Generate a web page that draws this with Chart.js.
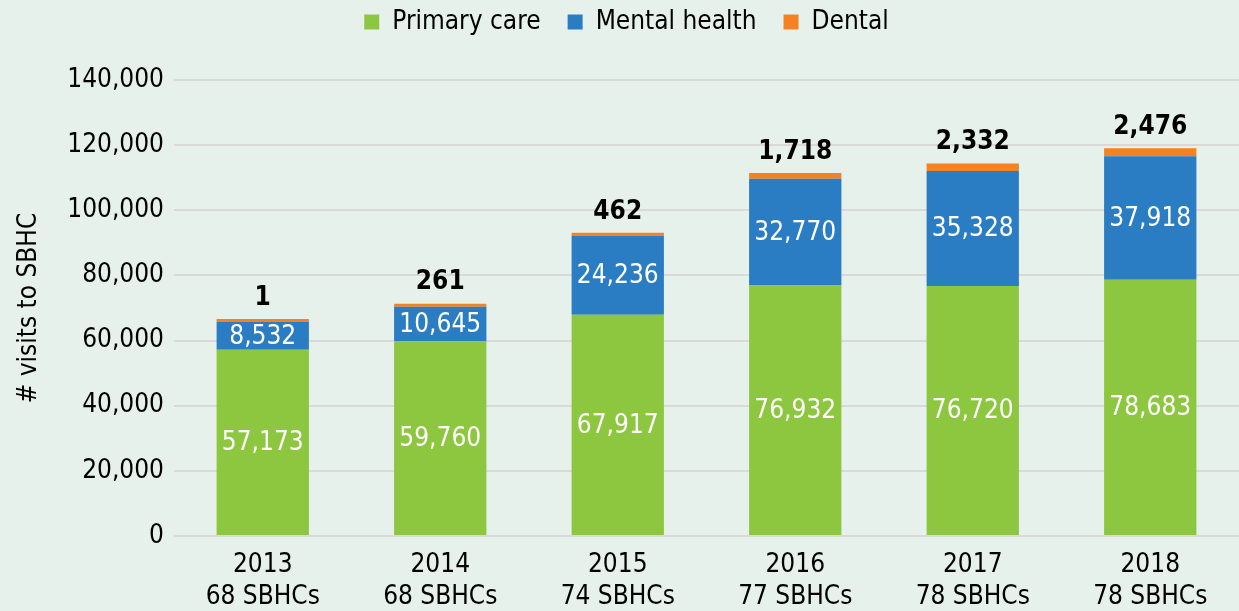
<!DOCTYPE html>
<html><head><meta charset="utf-8">
<script src="https://cdn.jsdelivr.net/npm/chart.js@4.4.0/dist/chart.umd.min.js"></script>
<style>
html,body{margin:0;padding:0;background:#e7f1eb;}
#wrap{width:1239px;height:611px;position:relative;}
</style></head>
<body><div id="wrap"><canvas id="c" width="1239" height="611"></canvas></div>
<script>
const years = ["2013","2014","2015","2016","2017","2018"];
const sites = ["68 SBHCs","68 SBHCs","74 SBHCs","77 SBHCs","78 SBHCs","78 SBHCs"];
const primaryCare = [57173,59760,67917,76932,76720,78683];
const mentalHealth = [8532,10645,24236,32770,35328,37918];
const dental = [1,261,462,1718,2332,2476];
const yTicks = [0,20000,40000,60000,80000,100000,120000,140000];

const FONT = "'Liberation Sans Narrow','DejaVu Sans Condensed','Arial Narrow',sans-serif";
const fmt = v => v.toLocaleString('en-US');

const labelPlugin = {
  id:'segLabels',
  afterDatasetsDraw(chart){
    const ctx = chart.ctx;
    ctx.save();
    ctx.textAlign='center';
    chart.data.datasets.forEach((ds,di)=>{
      const meta = chart.getDatasetMeta(di);
      meta.data.forEach((bar,i)=>{
        const v = ds.data[i];
        if(di<2){
          ctx.font = "26px "+FONT;
          ctx.fillStyle='#ffffff';
          ctx.textBaseline='middle';
          ctx.fillText(fmt(v), bar.x, (bar.y+bar.base)/2+1);
        } else {
          ctx.font = "bold 26px "+FONT;
          ctx.fillStyle='#000000';
          ctx.textBaseline='bottom';
          ctx.fillText(fmt(v), bar.x, bar.y-8);
        }
      });
    });
    ctx.restore();
  }
};

const legendFit = {
  id:'legendFit',
  afterInit(chart){
    const lg = chart.legend;
    if(!lg) return;
    const orig = lg.fit;
    lg.fit = function(){ orig.call(this); this.height = 98; };
  }
};

new Chart(document.getElementById('c'),{
  type:'bar',
  data:{
    labels: years.map((y,i)=>[y, sites[i]]),
    datasets:[
      {label:'Primary care', data:primaryCare, backgroundColor:'#8dc63f'},
      {label:'Mental health', data:mentalHealth, backgroundColor:'#2a7dc3'},
      {label:'Dental', data:dental, backgroundColor:'#f58220', minBarLength:3}
    ]
  },
  options:{
    responsive:false,
    animation:false,
    devicePixelRatio:1,
    layout:{padding:{left:14,right:0,top:-18,bottom:0}},
    datasets:{bar:{categoryPercentage:1,barPercentage:0.52,borderWidth:0}},
    plugins:{
      legend:{position:'top',align:'center',
        labels:{font:{family:FONT,size:26},color:'#000',boxWidth:15,boxHeight:15,padding:27},
        },
      tooltip:{enabled:false}
    },
    scales:{
      x:{stacked:true,
        grid:{display:false},
        border:{display:false},
        ticks:{font:{family:FONT,size:26,lineHeight:1.2},color:'#000',padding:6,maxRotation:0},
        afterFit(s){s.height=75;}
      },
      y:{stacked:true,min:0,max:140000,
        afterBuildTicks(s){s.ticks=yTicks.map(v=>({value:v}));},
        grid:{color:'#d9d9d9',lineWidth:2,drawTicks:false},
        border:{display:false},
        ticks:{font:{family:FONT,size:26},color:'#000',padding:10,callback:v=>fmt(v)},
        title:{display:true,text:'# visits to SBHC',font:{family:FONT,size:26},color:'#000',padding:0},
        afterFit(s){s.width=160;}
      }
    }
  },
  plugins:[labelPlugin, legendFit]
});
</script></body></html>
